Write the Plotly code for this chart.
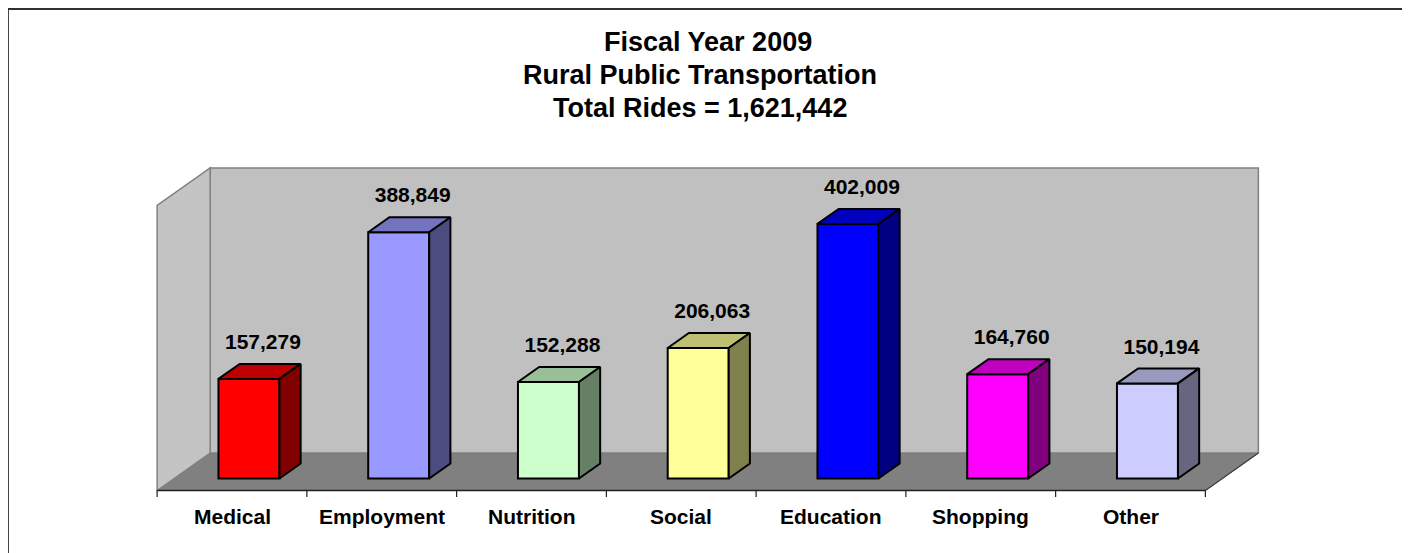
import plotly.graph_objects as go

# ---------------- data ----------------
categories = ["Medical", "Employment", "Nutrition", "Social", "Education", "Shopping", "Other"]
rides = [157279, 388849, 152288, 206063, 402009, 164760, 150194]
front_colors = ["#FF0000", "#9999FF", "#CCFFCC", "#FFFF99", "#0000FF", "#FF00FF", "#CCCCFF"]
title_lines = ["Fiscal Year 2009", "Rural Public Transportation", "Total Rides = 1,621,442"]
axis_max = 450000

# ---------------- geometry (pixel calibration) ----------------
OFF = 8.0                # page body margin offset
W, H = 1402, 545
CAT_PX = 149.75          # width of one category at the front edge
X0_PX = 232.0 - OFF      # centre of first category at front edge
BASE_PX = 490.5 - OFF    # floor front edge
K = 285.0 / axis_max     # px per value unit
DEPTH_X_PX, DEPTH_Y_PX = 53.0, 37.5
DX = DEPTH_X_PX / CAT_PX
DY = DEPTH_Y_PX / K
D0, D1 = 0.32, 0.72      # bar depth (front / back) as fraction of floor depth
BAR_W = 61.0 / CAT_PX
FONT = "Arial, Liberation Sans, sans-serif"


def P(x, v, d):
    return x + d * DX, v + d * DY


def shade(hex_color, f):
    h = hex_color.lstrip("#")
    r, g, b = (int(h[i:i + 2], 16) for i in (0, 2, 4))
    return "#%02X%02X%02X" % (round(r * f), round(g * f), round(b * f))


def path(points):
    return "M " + " L ".join("%f,%f" % p for p in points) + " Z"


n = len(categories)
xl, xr = -0.5, n - 0.5

fig = go.Figure()

shapes = []
# floor
shapes.append(dict(type="path", layer="below", xref="x", yref="y",
                   path=path([P(xl, 0, 0), P(xr, 0, 0), P(xr, 0, 1), P(xl, 0, 1)]),
                   fillcolor="#808080", line=dict(color="#606060", width=1)))
# back wall
shapes.append(dict(type="path", layer="below", xref="x", yref="y",
                   path=path([P(xl, 0, 1), P(xr, 0, 1), P(xr, axis_max, 1), P(xl, axis_max, 1)]),
                   fillcolor="#C0C0C0", line=dict(color="#808080", width=1.5)))
# left wall
shapes.append(dict(type="path", layer="below", xref="x", yref="y",
                   path=path([P(xl, 0, 0), P(xl, 0, 1), P(xl, axis_max, 1), P(xl, axis_max, 0)]),
                   fillcolor="#C4C4C4", line=dict(color="#808080", width=1.5)))
# floor right edge
x_a, y_a = P(xr, 0, 0)
x_b, y_b = P(xr, 0, 1)
shapes.append(dict(type="line", layer="below", xref="x", yref="y", x0=x_a, y0=y_a, x1=x_b, y1=y_b,
                   line=dict(color="#404040", width=1.2)))
# category axis line + ticks
shapes.append(dict(type="line", xref="x", yref="y", x0=xl, y0=0, x1=xr, y1=0,
                   line=dict(color="#202020", width=1.5)))
for i in range(n + 1):
    shapes.append(dict(type="line", xref="x", yref="y", x0=i - 0.5, y0=0, x1=i - 0.5, y1=-6.5 / K,
                       line=dict(color="#202020", width=1.2)))
# outer chart border
shapes.append(dict(type="rect", xref="paper", yref="paper",
                   x0=(7 - OFF) / W + 1.0 / W, x1=(1407 - OFF) / W, y0=1 - (560 - OFF) / H, y1=1 - (8 - OFF + 1) / H,
                   line=dict(color="#303030", width=1.8), fillcolor="rgba(0,0,0,0)"))

# front faces of bars
fig.add_trace(go.Bar(
    x=[i + D0 * DX for i in range(n)], y=rides, base=[D0 * DY] * n, width=BAR_W,
    marker=dict(color=front_colors, line=dict(color="#000000", width=2)),
    hoverinfo="skip", showlegend=False))

# top and side faces
for i, (v, c) in enumerate(zip(rides, front_colors)):
    l, r = i - BAR_W / 2, i + BAR_W / 2
    top = [P(l, v, D0), P(r, v, D0), P(r, v, D1), P(l, v, D1), P(l, v, D0)]
    side = [P(r, 0, D0), P(r, v, D0), P(r, v, D1), P(r, 0, D1), P(r, 0, D0)]
    for pts, f in ((top, 0.75), (side, 0.5)):
        fig.add_trace(go.Scatter(
            x=[p[0] for p in pts], y=[p[1] for p in pts], mode="lines", fill="toself",
            fillcolor=shade(c, f), line=dict(color="#000000", width=2),
            hoverinfo="skip", showlegend=False))

# value labels
fig.add_trace(go.Scatter(
    x=[i + (D0 * DEPTH_X_PX + 14) / CAT_PX for i in range(n)],
    y=[v + (D0 * DEPTH_Y_PX + 35) / K for v in rides],
    mode="text", text=[f"{v:,}" for v in rides], textposition="middle center",
    textfont=dict(family=FONT, size=21, color="#000000", weight="bold"),
    hoverinfo="skip", showlegend=False))

annotations = []
for i, cat in enumerate(categories):
    annotations.append(dict(x=i, y=-(516 - 490.5) / K, xref="x", yref="y", text=cat,
                            showarrow=False, xanchor="center", yanchor="middle",
                            font=dict(family=FONT, size=21, color="#000000", weight="bold")))
for txt, cx, cy in zip(title_lines, [708, 700, 700], [42, 75, 108]):
    annotations.append(dict(x=(cx - OFF) / W, y=1 - (cy - OFF) / H, xref="paper", yref="paper", text=txt,
                            showarrow=False, xanchor="center", yanchor="middle",
                            font=dict(family=FONT, size=27, color="#000000", weight="bold")))

fig.update_layout(
    width=W, height=H, margin=dict(l=0, r=0, t=0, b=0, pad=0),
    paper_bgcolor="#FFFFFF", plot_bgcolor="#FFFFFF",
    xaxis=dict(visible=False, range=[-X0_PX / CAT_PX, (W - X0_PX) / CAT_PX], fixedrange=True),
    yaxis=dict(visible=False, range=[(BASE_PX - H) / K, BASE_PX / K], fixedrange=True),
    shapes=shapes, annotations=annotations, showlegend=False,
)

fig.write_html("out.html")
